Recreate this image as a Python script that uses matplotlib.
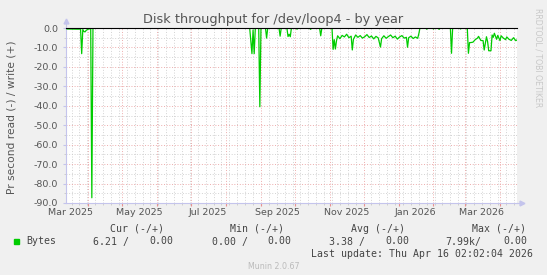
import numpy as np
import pandas as pd
import matplotlib
matplotlib.use('Agg')
import matplotlib.pyplot as plt
import matplotlib.dates as mdates
from matplotlib.ticker import MultipleLocator, FixedLocator

# read side of the disk throughput (plotted negative, munin style)
read_dates = [
    '2025-03-13', '2025-03-23', '2025-03-25', '2025-03-26', '2025-03-27', '2025-03-28',
    '2025-03-29', '2025-03-30', '2025-04-01', '2025-04-03', '2025-04-04', '2025-04-05',
    '2025-08-22', '2025-08-24', '2025-08-25', '2025-08-26', '2025-08-27', '2025-08-30',
    '2025-08-31', '2025-09-01', '2025-09-05', '2025-09-06', '2025-09-07', '2025-09-17',
    '2025-09-18', '2025-09-19', '2025-09-24', '2025-09-25', '2025-09-26', '2025-09-27',
    '2025-09-28', '2025-10-02', '2025-10-03', '2025-10-04', '2025-10-14', '2025-10-15',
    '2025-10-16', '2025-10-23', '2025-10-24', '2025-10-25', '2025-11-03', '2025-11-04',
    '2025-11-05', '2025-11-06', '2025-11-07', '2025-11-08', '2025-11-10', '2025-11-12',
    '2025-11-14', '2025-11-16', '2025-11-18', '2025-11-20', '2025-11-21', '2025-11-22',
    '2025-11-24', '2025-11-26', '2025-11-28', '2025-11-30', '2025-12-02', '2025-12-04',
    '2025-12-06', '2025-12-08', '2025-12-10', '2025-12-12', '2025-12-14', '2025-12-16',
    '2025-12-17', '2025-12-19', '2025-12-21', '2025-12-23', '2025-12-25', '2025-12-27',
    '2025-12-29', '2025-12-31', '2026-01-02', '2026-01-04', '2026-01-06', '2026-01-08',
    '2026-01-09', '2026-01-10', '2026-01-12', '2026-01-14', '2026-01-16', '2026-01-18',
    '2026-01-19', '2026-01-20', '2026-01-25', '2026-01-26', '2026-01-27', '2026-01-31',
    '2026-02-01', '2026-02-02', '2026-02-05', '2026-02-06', '2026-02-07', '2026-02-16',
    '2026-02-17', '2026-02-18', '2026-02-24', '2026-02-25', '2026-02-26', '2026-03-03',
    '2026-03-04', '2026-03-05', '2026-03-06', '2026-03-08', '2026-03-10', '2026-03-12',
    '2026-03-13', '2026-03-15', '2026-03-17', '2026-03-18', '2026-03-20', '2026-03-21',
    '2026-03-22', '2026-03-24', '2026-03-25', '2026-03-26', '2026-03-27', '2026-03-29',
    '2026-03-30', '2026-04-01', '2026-04-02', '2026-04-04', '2026-04-06', '2026-04-07',
    '2026-04-09', '2026-04-11', '2026-04-13', '2026-04-15', '2026-04-16',
]
read_values = [
    -0.5, -0.6, -0.5, -13.2, -0.8, -1.8,
    -2.0, -1.2, -0.5, -0.4, -87.3, 0.0,
    0.0, -13.2, -1.0, -13.2, 0.0, 0.0,
    -40.5, 0.0, 0.0, -5.2, 0.0, 0.0,
    -4.2, 0.0, 0.0, -4.4, -3.2, -4.5,
    0.0, 0.0, -0.6, 0.0, 0.0, -0.7,
    0.0, 0.0, -4.0, 0.0, 0.0, -11.0,
    -6.0, -10.8, -6.5, -4.0, -5.5, -3.8,
    -4.6, -3.2, -5.0, -4.2, -11.3, -5.8,
    -3.6, -4.8, -3.9, -5.2, -4.5, -3.4,
    -4.9, -4.1, -5.6, -4.3, -5.1, -9.8,
    -5.5, -4.0, -5.3, -4.4, -3.6, -5.0,
    -4.2, -5.7, -4.6, -3.9, -5.2, -4.8,
    -9.9, -5.0, -4.2, -5.4, -4.6, -5.3,
    -3.0, 0.0, 0.0, -0.6, 0.0, 0.0,
    -0.5, 0.0, 0.0, -0.7, 0.0, 0.0,
    -13.0, 0.0, 0.0, -0.5, 0.0, 0.0,
    -13.0, -7.5, -7.5, -7.3, -6.0, -5.2,
    -4.3, -6.4, -6.5, -11.3, -4.5, -7.0,
    -11.7, -11.7, -3.6, -4.8, -2.7, -5.8,
    -3.8, -6.5, -4.0, -5.2, -6.0, -4.6,
    -5.8, -6.4, -5.0, -6.5, -6.2,
]
write_values_level = 0.0

range_start = '2025-03-12 02:02'
range_end = '2026-04-16 02:02'
month_labels = ['Mar 2025', 'May 2025', 'Jul 2025', 'Sep 2025', 'Nov 2025', 'Jan 2026', 'Mar 2026']
month_label_starts = ['2025-03-01', '2025-05-01', '2025-07-01', '2025-09-01',
                      '2025-11-01', '2026-01-01', '2026-03-01']
y_ticks = [0, -10, -20, -30, -40, -50, -60, -70, -80, -90]

stat_headers = ['Cur (-/+)', 'Min (-/+)', 'Avg (-/+)', 'Max (-/+)']
read_stats = ['6.21 /', '0.00 /', '3.38 /', '7.99k/']
write_stats = ['0.00', '0.00', '0.00', '0.00']

W, H = 547, 275
green = '#00cc00'
axis_col = '#c4c4ec'
txt_col = '#555555'

fig = plt.figure(figsize=(W / 100, H / 100), dpi=100)
fig.patch.set_facecolor('#f0f0f0')
ax = fig.add_axes([66 / W, (H - 203) / H, 451 / W, 175 / H])
ax.set_facecolor('white')

x = pd.to_datetime(read_dates)
ax.plot(x, read_values, color=green, lw=0.9, zorder=3)
ax.axhline(write_values_level, color='black', lw=0.8, zorder=4, clip_on=False)

ax.set_xlim(pd.Timestamp(range_start), pd.Timestamp(range_end))
ax.set_ylim(-90, 0)

ax.xaxis.set_major_locator(mdates.MonthLocator())
ax.xaxis.set_minor_locator(mdates.WeekdayLocator(byweekday=mdates.MO))
ax.yaxis.set_major_locator(FixedLocator(y_ticks))
ax.yaxis.set_minor_locator(MultipleLocator(5))
ax.set_yticklabels(['%.1f' % v for v in y_ticks])

ax.grid(which='major', color='#eaa0a0', linestyle=(0, (1, 2)), linewidth=0.65, zorder=1)
ax.grid(which='minor', color='#cccccc', linestyle=(0, (1, 2)), linewidth=0.65, zorder=1)
ax.set_axisbelow(True)

for s in ['top', 'right']:
    ax.spines[s].set_visible(False)
for s in ['left', 'bottom']:
    ax.spines[s].set_color(axis_col)
    ax.spines[s].set_linewidth(0.8)

ax.tick_params(axis='x', which='major', length=2.5, color='#e89090', labelbottom=False)
ax.tick_params(axis='x', which='minor', length=1.5, color='#c8c8c8')
ax.tick_params(axis='y', which='major', length=2, color=axis_col, pad=3.5,
               labelsize=6.8, labelcolor=txt_col)
ax.tick_params(axis='y', which='minor', length=1.5, color='#c8c8c8')

# month labels sit in the middle of the month, rrdtool style
for lab, st in zip(month_labels, month_label_starts):
    xpos = pd.Timestamp(st) + pd.Timedelta(days=15)
    ax.text(xpos, -9.5 / 175, lab, transform=ax.get_xaxis_transform(),
            ha='center', va='center', fontsize=6.8, color=txt_col, clip_on=False)

# axis arrows
ax.plot([0, 0], [1, 1.04], transform=ax.transAxes, color=axis_col, lw=0.8, clip_on=False)
ax.plot([0], [1.04], marker='^', ms=3.5, color=axis_col, transform=ax.transAxes, clip_on=False)
ax.plot([1, 1.012], [0, 0], transform=ax.transAxes, color=axis_col, lw=0.8, clip_on=False)
ax.plot([1.012], [0], marker='>', ms=3.5, color=axis_col, transform=ax.transAxes, clip_on=False)

fig.text(273 / W, 1 - 20 / H, 'Disk throughput for /dev/loop4 - by year',
         ha='center', va='center', fontsize=9.3, color=txt_col)
fig.text(12 / W, 1 - 117 / H, 'Pr second read (-) / write (+)', rotation=90,
         ha='center', va='center', fontsize=7.7, color=txt_col)
fig.text(538 / W, 1 - 58 / H, 'RRDTOOL / TOBI OETIKER', rotation=-90,
         ha='center', va='center', fontsize=5.6, color='#c8c8c8')

mono = 'DejaVu Sans Mono'
hdr_right = [164, 284.4, 404.7, 526.2]
read_right = [129, 247.7, 364.6, 481.5]
write_right = [173.4, 291, 409, 527]
for h, xr in zip(stat_headers, hdr_right):
    fig.text(xr / W, 1 - 228.6 / H, h, ha='right', va='center', family=mono,
             fontsize=7.1, color='#444444')
fig.patches.append(plt.Rectangle((14 / W, 1 - 244 / H), 5 / W, 5 / H, color=green,
                                 transform=fig.transFigure, figure=fig))
fig.text(26 / W, 1 - 241.5 / H, 'Bytes', ha='left', va='center', family=mono,
         fontsize=7.1, color='#444444')
for r, xr in zip(read_stats, read_right):
    fig.text(xr / W, 1 - 241.5 / H, r, ha='right', va='center', family=mono,
             fontsize=7.1, color='#444444')
for w, xr in zip(write_stats, write_right):
    fig.text(xr / W, 1 - 241.5 / H, w, ha='right', va='center', family=mono,
             fontsize=7.1, color='#444444')
fig.text(533 / W, 1 - 254 / H, 'Last update: Thu Apr 16 02:02:04 2026', ha='right',
         va='center', family=mono, fontsize=7.1, color='#444444')
fig.text(273.5 / W, 1 - 266.3 / H, 'Munin 2.0.67', ha='center', va='center',
         fontsize=5.7, color='#bbbbbb')

fig.savefig('out.png', dpi=100, facecolor=fig.get_facecolor())
